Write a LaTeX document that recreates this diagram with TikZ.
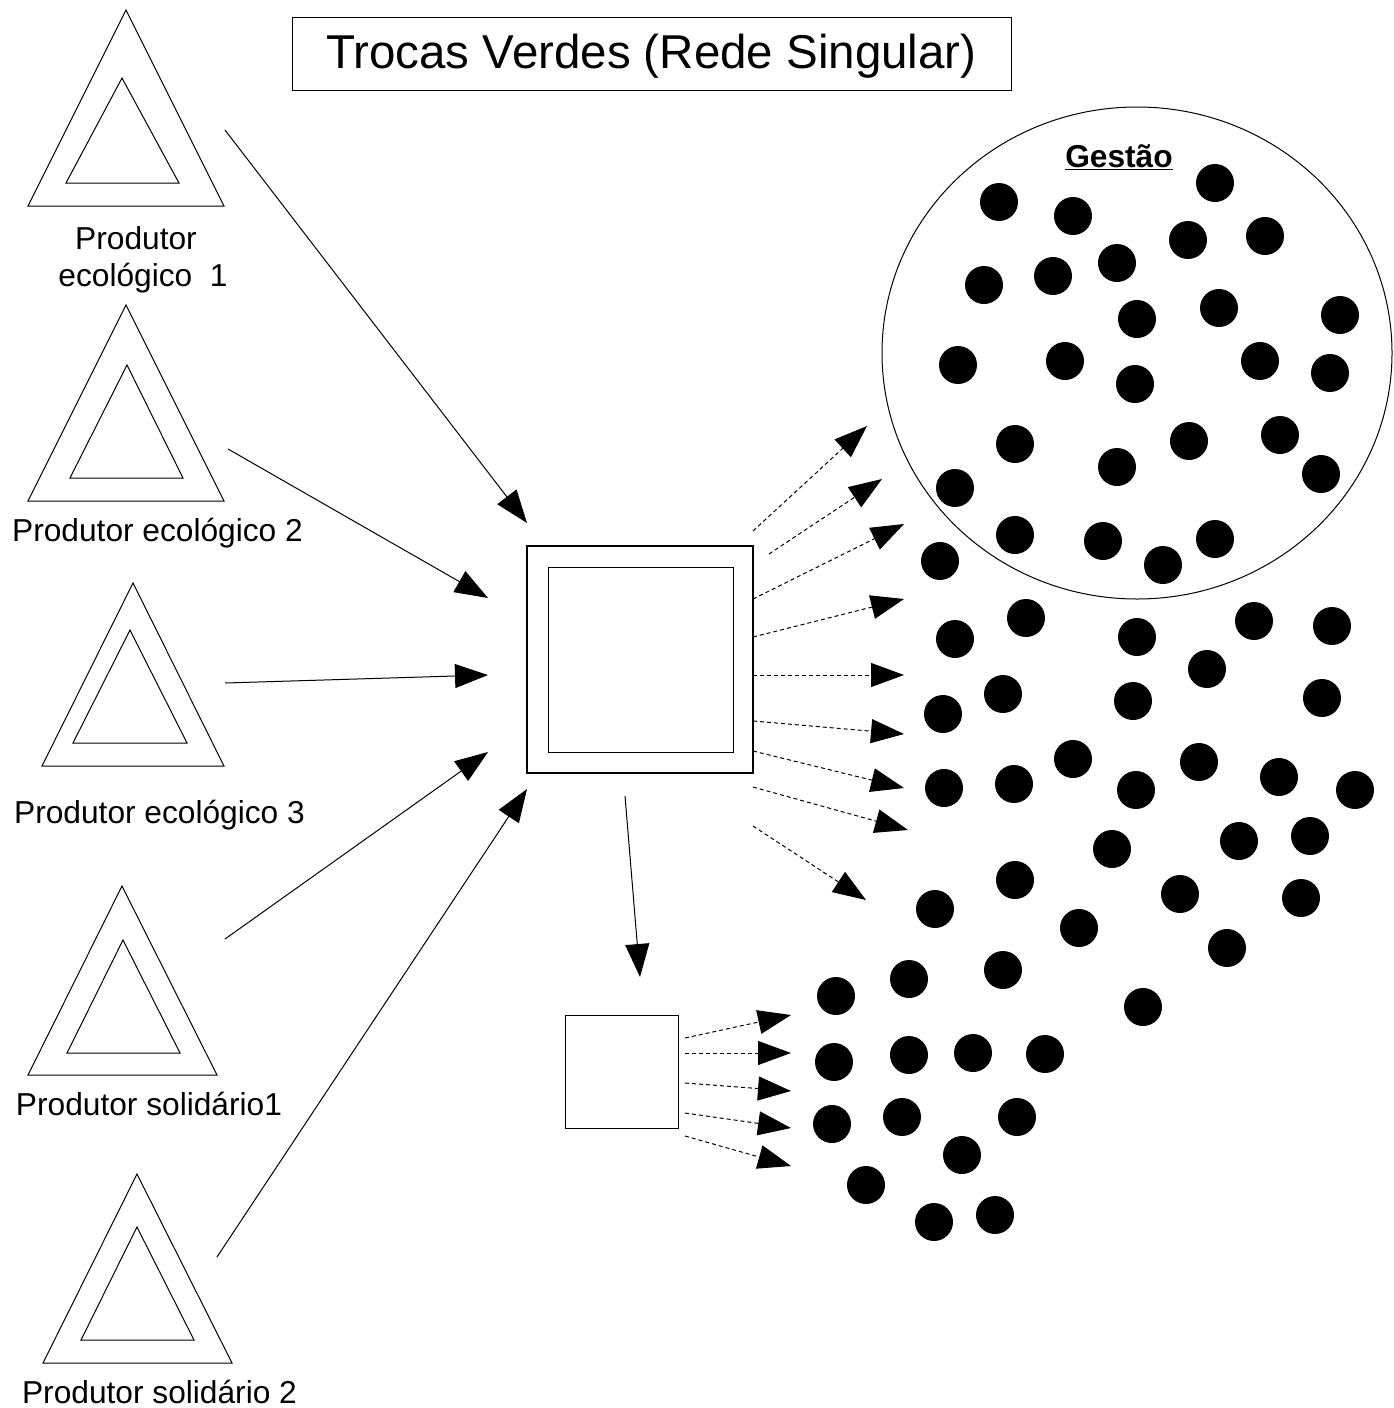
\documentclass[tikz,border=0pt]{standalone}
\usepackage{fontspec}
\setmainfont{Liberation Sans}
\usetikzlibrary{arrows.meta,shapes.geometric}
\begin{document}
\begin{tikzpicture}[x=1pt,y=-1pt,line width=1pt,
  lbl/.style={font=\fontsize{31.7pt}{36.5pt}\selectfont, inner sep=0pt, anchor=base},
  dot/.style={circle, fill=black, minimum size=38pt, inner sep=0pt},
  tri/.style={line width=1pt, line join=miter},
  feed/.style={-{Triangle[length=33pt,width=24pt]}, line width=1pt},
  flow/.style={-{Triangle[length=33pt,width=24pt]}, line width=1pt, dash pattern=on 4pt off 3pt},
  boxd/.style={draw, inner sep=0pt, line width=1.2pt}]
\useasboundingbox (0,0) rectangle (1393,1408);

% title
\node[boxd, line width=1pt, minimum width=719pt, minimum height=73pt, text height=34pt, text depth=5pt,
      font=\fontsize{47.5pt}{50pt}\selectfont] (title) at (651.5,53.5) {Trocas Verdes (Rede Singular)};

% producers (triangles)
\draw[tri] (126,10) -- (224,206) -- (28,206) -- cycle;
\draw[tri] (122,78) -- (179,183) -- (66,183) -- cycle;
\draw[tri] (126,305) -- (224,501) -- (28,501) -- cycle;
\draw[tri] (127,365) -- (183,478) -- (70,478) -- cycle;
\draw[tri] (133,583) -- (224,766) -- (42,766) -- cycle;
\draw[tri] (130,630) -- (187,743) -- (73,743) -- cycle;
\draw[tri] (122,886) -- (217,1075) -- (28,1075) -- cycle;
\draw[tri] (123,940) -- (180,1053) -- (67,1053) -- cycle;
\draw[tri] (137,1174) -- (232,1363) -- (43,1363) -- cycle;
\draw[tri] (137,1227) -- (194,1340) -- (81,1340) -- cycle;

\node[lbl, align=center] (l1) at (143,286) {Produtor\hspace*{14pt}\\ecológico\ \ 1};
\node[lbl] (l2) at (157.5,541) {Produtor ecológico 2};
\node[lbl] (l3) at (159.5,823) {Produtor ecológico 3};
\node[lbl] (l4) at (149,1115) {Produtor solidário1};
\node[lbl] (l5) at (159.5,1403) {Produtor solidário 2};

% hub boxes
\node[boxd, minimum width=226pt, minimum height=227pt] (hub) at (640,659.5) {};
\node[draw, inner sep=0pt, line width=1pt, minimum width=185pt, minimum height=185pt] (hubin) at (640.5,659.5) {};
\node[draw, inner sep=0pt, line width=1pt, minimum width=113pt, minimum height=113pt] (sub) at (621.5,1071.5) {};

% management ellipse
\node[draw, ellipse, inner sep=0pt, line width=1pt, minimum width=510pt, minimum height=492pt] (gestao) at (1137,353) {};
\node[font=\bfseries\fontsize{31.7pt}{36pt}\selectfont, inner sep=0pt, anchor=base] (gestaolbl) at (1119,167) {\underline{Gestão}};

% input arrows
\foreach \i/\sx/\sy/\tx/\ty in {1/225/130/527/523, 2/228/449/488/598, 3/225/683/488/675, 4/225/939/488/752, 5/217/1257/527/789, 6/625/796/640/977}{
  \coordinate (is\i) at (\sx,\sy);
  \coordinate (it\i) at (\tx,\ty);
  \draw[feed] (is\i) -- (it\i);
}

% dashed distribution arrows from hub
\foreach \i/\sx/\sy/\tx/\ty in {1/753/531/867/426, 2/769/554/882/479, 3/753/599/904/524, 4/753/637/904/599, 5/753/675/904/675, 6/753/721/904/734, 7/753/751/904/788, 8/753/787/908/830, 9/753/826/866/900}{
  \coordinate (fs\i) at (\sx,\sy);
  \coordinate (ft\i) at (\tx,\ty);
  \draw[flow] (fs\i) -- (ft\i);
}

% dashed arrows from small box
\foreach \i/\sy/\ty in {1/1038/1015, 2/1053/1053, 3/1083/1091, 4/1113/1128, 5/1136/1166}{
  \coordinate (ss\i) at (685,\sy);
  \coordinate (st\i) at (791,\ty);
  \draw[flow] (ss\i) -- (st\i);
}

% dots
\foreach \x/\y [count=\k] in {999/202,1073/216,1215/183,1188/240,1265/236,984/285,1053/276,1117/263,1137/319,1219/308,1340/315,958/365,1065/361,1135/384,1260/361,1330/373,1015/444,1189/441,1280/435,1117/467,1321/474,955/488,1015/535,1103/541,1163/565,1215/539,940/561,
955/639,1026/618,1137/637,1254/621,1332/626,1207/669,943/714,1003/694,1133/701,1322/698,944/788,1014/784,1073/759,1136/790,1199/762,1279/777,1355/790,1112/849,1239/841,1310/836,1015/880,935/909,1079/928,1180/894,1301/898,1227/948,909/979,1003/970,1143/1007,
836/996,834/1062,909/1055,973/1053,1045/1054,832/1124,902/1117,1017/1117,962/1155,866/1185,934/1222,995/1215}{
  \node[dot] (g\k) at (\x,\y) {};
}
\end{tikzpicture}
\end{document}
